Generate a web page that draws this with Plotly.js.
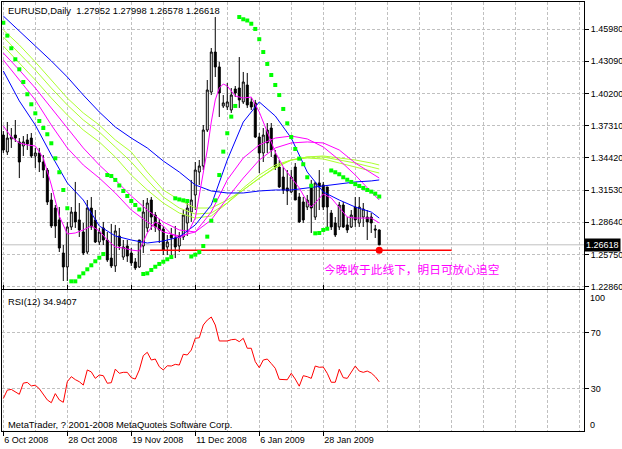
<!DOCTYPE html>
<html><head><meta charset="utf-8">
<script src="https://cdn.plot.ly/plotly-3.0.1.min.js"></script>
<style>html,body{margin:0;padding:0;background:#fff}#c{width:622px;height:449px}</style>
</head><body><div id="c"></div>
<script>
// ---- data ----
const dateLabels = ['6 Oct 2008','28 Oct 2008','19 Nov 2008','11 Dec 2008','6 Jan 2009','28 Jan 2009'];
const dateIdx = [0,16,32,48,64,80];

const open = [1.3647,1.3495,1.3612,1.3647,1.3585,1.3549,1.3603,1.3620,1.3459,1.3486,
1.3405,1.3333,1.3064,1.2992,1.2885,1.2588,1.2463,1.2822,1.2956,1.2885,
1.2777,1.2597,1.2992,1.2885,1.2687,1.2813,1.2705,1.2543,1.2472,1.2741,
1.2552,1.2651,1.2588,1.2508,1.2463,1.2651,1.2813,1.3064,1.2929,1.2858,
1.2804,1.2642,1.2750,1.2723,1.2651,1.2732,1.2858,1.2956,1.3109,1.3315,
1.3369,1.3692,1.4033,1.4392,1.4258,1.3908,1.3899,1.3872,1.4060,1.4069,
1.3944,1.4096,1.3944,1.3935,1.3629,1.3486,1.3692,1.3710,1.3468,1.3360,
1.3270,1.3172,1.3136,1.3360,1.3091,1.3046,1.3001,1.3199,1.2911,1.3217,
1.3199,1.3181,1.2947,1.2858,1.2822,1.3019,1.2840,1.2822,1.3001,1.2858,
1.2911,1.2911,1.2911,1.2804,1.27952];
const high = [1.3683,1.3764,1.3710,1.3782,1.3620,1.3638,1.3656,1.3665,1.3531,1.3531,
1.3468,1.3351,1.3127,1.3019,1.3001,1.2660,1.2867,1.3001,1.3226,1.3037,
1.2858,1.3064,1.3091,1.2974,1.2813,1.2867,1.2777,1.2849,1.2840,1.2813,
1.2705,1.2705,1.2633,1.2543,1.2678,1.3064,1.3082,1.3091,1.2956,1.2894,
1.2831,1.2750,1.2813,1.2831,1.2777,1.2974,1.3037,1.3244,1.3405,1.3423,
1.3737,1.4141,1.4428,1.4706,1.4303,1.4006,1.4114,1.4069,1.4087,1.4347,
1.4213,1.4204,1.3979,1.3962,1.3665,1.3710,1.3755,1.3755,1.3513,1.3423,
1.3360,1.3333,1.3333,1.3396,1.3127,1.3091,1.3109,1.3244,1.3226,1.3333,
1.3226,1.3181,1.2974,1.2911,1.3046,1.3046,1.2911,1.2974,1.3091,1.3091,
1.3037,1.2974,1.2947,1.2840,1.27998];
const low = [1.3486,1.3468,1.3531,1.3585,1.3261,1.3459,1.3513,1.3441,1.3351,1.3315,
1.3261,1.3019,1.2813,1.2723,1.2597,1.2337,1.2337,1.2795,1.2813,1.2732,
1.2570,1.2579,1.2795,1.2678,1.2660,1.2660,1.2508,1.2454,1.2418,1.2615,
1.2526,1.2508,1.2472,1.2436,1.2454,1.2588,1.2777,1.2795,1.2777,1.2678,
1.2570,1.2570,1.2570,1.2543,1.2597,1.2705,1.2741,1.2867,1.2974,1.3199,
1.3333,1.3674,1.4006,1.4168,1.3809,1.3890,1.3872,1.3845,1.3988,1.3890,
1.3926,1.3890,1.3872,1.3620,1.3306,1.3405,1.3486,1.3450,1.3333,1.3172,
1.3118,1.3019,1.3127,1.3064,1.2858,1.2858,1.2974,1.2768,1.2885,1.2974,
1.2974,1.2795,1.2795,1.2732,1.2795,1.2813,1.2768,1.2813,1.2822,1.2822,
1.2822,1.2705,1.2768,1.2723,1.26578];
const close = [1.3513,1.3620,1.3629,1.3620,1.3405,1.3585,1.3567,1.3459,1.3486,1.3405,
1.3333,1.3046,1.2831,1.2831,1.2633,1.2463,1.2822,1.2956,1.2867,1.2795,
1.2588,1.2992,1.2822,1.2687,1.2777,1.2705,1.2526,1.2472,1.2786,1.2651,
1.2642,1.2561,1.2499,1.2454,1.2705,1.2956,1.3037,1.2911,1.2822,1.2795,
1.2615,1.2687,1.2723,1.2642,1.2741,1.2929,1.2992,1.3064,1.3333,1.3369,
1.3692,1.4051,1.4392,1.4258,1.4024,1.3935,1.3944,1.4006,1.4024,1.3962,
1.4123,1.3917,1.3899,1.3629,1.3486,1.3647,1.3576,1.3513,1.3360,1.3181,
1.3154,1.3145,1.3270,1.3064,1.2867,1.2885,1.3064,1.2992,1.3217,1.3181,
1.3001,1.3001,1.2822,1.2750,1.3019,1.2822,1.2795,1.2929,1.2885,1.3001,
1.2983,1.2867,1.2858,1.2795,1.26618];

const sar = [1.4655,1.4539,1.4426,1.4327,1.4237,1.4123,1.4013,1.3923,1.3842,1.3773,1.3710,1.3654,1.3573,1.3438,1.3313,1.3154,1.2990,
1.2334,1.2334,1.2376,1.2406,1.2442,1.2478,1.2514,1.2546,1.2579,
1.3288,1.3279,1.3244,1.3194,1.3145,1.3100,1.3055,1.3019,1.2979,
1.2400,1.2406,1.2436,1.2465,1.2490,1.2510,1.2532,1.2552,
1.3079,1.3069,1.3061,1.3055,
1.2557,1.2573,1.2597,1.2651,1.2735,1.2878,1.3061,1.3288,1.3498,1.3663,1.3812,1.3908,
1.4706,1.4686,1.4675,1.4646,1.4599,1.4507,1.4392,1.4285,1.4186,1.4096,1.4006,1.3881,1.3752,1.3629,1.3522,1.3435,1.3385,1.3268,1.3192,
1.2765,1.2768,1.2795,1.2806,
1.3329,1.3313,1.3295,1.3268,1.3246,1.3226,1.3206,1.3190,1.3172,1.3154,1.3139,1.3121,1.3095];

const rsi = [23,29,29.5,28,26,34,34.5,32,32.5,30,25.5,22,20,26.5,22,20.3,35,38.6,36.5,35,
32.6,43.4,42,37.4,39.8,39.3,33.9,34.3,44,41,41.7,41.7,37.9,36.9,43.4,53.6,56,50.5,51.2,45.7,
43.4,46.4,46.2,47.4,46.9,54.6,54.1,57.6,66,66.4,75.5,79,81.2,75.5,64.1,64.1,64.1,65,65.3,63.6,
66,58.9,58.9,49.3,45,50.5,51.2,48,44.6,36.7,36.5,36.4,41,36.9,31.8,39.3,38.6,37.4,46.2,45.3,
45.5,41,34.6,34.6,43.9,37.9,37.4,41.7,46.2,42.6,41.7,42.6,41.2,38.6,34.94];
const rsiValueText = '34.9407';

// moving averages sampled every 4 bars
const maIdx = [0,4,8,12,16,20,24,28,32,36,40,44,48,52,56,60,64,68,72,76,80,84,88,92,94];
const blueSlow = [1.4715,1.4581,1.4455,1.4312,1.4168,1.4006,1.3854,1.3719,1.3620,1.3531,1.3414,1.3315,1.3199,1.3145,1.3127,1.3127,1.3145,1.3154,1.3154,1.3172,1.3190,1.3208,1.3226,1.3235,1.3244];
const blueFast = [1.4222,1.3953,1.3737,1.3468,1.3217,1.3064,1.2831,1.2741,1.2705,1.2678,1.2696,1.2732,1.2840,1.3019,1.3423,1.3764,1.3944,1.3818,1.3620,1.3315,1.3136,1.3064,1.3001,1.2956,1.2902];
const lime1 = [1.4590,1.4455,1.4303,1.4141,1.3979,1.3845,1.3737,1.3603,1.3495,1.3315,1.3154,1.3064,1.2992,1.2992,1.3064,1.3154,1.3261,1.3351,1.3423,1.3450,1.3459,1.3441,1.3423,1.3396,1.3378];
const lime2 = [1.4527,1.4383,1.4231,1.4069,1.3917,1.3782,1.3674,1.3540,1.3405,1.3244,1.3091,1.2992,1.2938,1.2947,1.3037,1.3154,1.3261,1.3360,1.3423,1.3450,1.3450,1.3423,1.3396,1.3360,1.3342];
const lime3 = [1.4446,1.4294,1.4141,1.3979,1.3827,1.3692,1.3585,1.3450,1.3288,1.3154,1.3037,1.2947,1.2902,1.2920,1.3037,1.3172,1.3288,1.3378,1.3423,1.3441,1.3432,1.3396,1.3360,1.3324,1.3306];
const magSlow = [1.4383,1.4231,1.4069,1.3890,1.3710,1.3531,1.3378,1.3244,1.3100,1.2974,1.2867,1.2795,1.2777,1.2885,1.3082,1.3261,1.3423,1.3531,1.3576,1.3585,1.3576,1.3513,1.3396,1.3306,1.3261];
const magMid = [1.4321,1.4141,1.3962,1.3737,1.3531,1.3378,1.3261,1.3127,1.2974,1.2867,1.2777,1.2741,1.2777,1.2956,1.3244,1.3441,1.3558,1.3620,1.3638,1.3612,1.3540,1.3423,1.3288,1.3136,1.3064];
const fastIdx = [0,2,4,6,8,10,12,14,16,18,20,22,24,26,28,30,32,34,36,38,40,42,44,46,48,49,50,51,52,53,54,55,56,58,60,62,64,66,68,70,72,74,76,77,78,80,82,84,86,88,90,92,94];
const magFast = [1.3728,1.3629,1.3576,1.3558,1.3549,1.3441,1.3199,1.2920,1.2759,1.2768,1.2795,1.2831,1.2786,1.2705,1.2642,1.2633,1.2615,1.2606,1.2768,1.2867,1.2831,1.2759,1.2723,1.2759,1.2902,1.3109,1.3315,1.3513,1.3764,1.3962,1.4069,1.4105,1.4087,1.3997,1.3979,1.3988,1.3854,1.3665,1.3495,1.3360,1.3270,1.3172,1.3046,1.3001,1.3037,1.3118,1.3082,1.2992,1.2911,1.2902,1.2902,1.2902,1.2858];

// horizontal level drawn by the author
const levelIdx = [36.7, 112.1];
const levelPrice = 1.2612;
const levelNote = '今晚收于此线下，明日可放心追空';

const priceTicks = [1.22860,1.25750,1.28640,1.31530,1.34420,1.37310,1.40200,1.43090,1.45980];
const rsiTicks = [30,70];
const titleText = 'EURUSD,Daily\u00a0\u00a01.27952 1.27998 1.26578 1.26618';
const copyText = 'MetaTrader, ? 2001-2008 MetaQuotes Software Corp.';

// ---- layout helpers ----
const W = 622, H = 449, ML = 2, MR = 38, MT = 2, MB = 18;
const PW = W - ML - MR, PH = H - MT - MB;
const px = x => (x - ML) / PW;
const py = y => (H - MB - y) / PH;

const bars = open.map((_, i) => i);
const lastI = bars.length - 1;
const FONT = 'Liberation Sans, Arial, sans-serif';
const GRID = '#c0c0c0';
const DASH = '3px,2px';

const lineTrace = (xs, ys, color) => ({type:'scatter', mode:'lines', x:xs, y:ys, xaxis:'x', yaxis:'y',
  line:{color:color, width:1}, hoverinfo:'skip', showlegend:false, cliponaxis:true});

const traces = [
  lineTrace(maIdx, lime1, '#adff2f'),
  lineTrace(maIdx, lime2, '#adff2f'),
  lineTrace(maIdx, lime3, '#adff2f'),
  lineTrace(maIdx, magSlow, '#ff00ff'),
  lineTrace(maIdx, magMid, '#ff00ff'),
  lineTrace(maIdx, blueSlow, '#0000ff'),
  lineTrace(maIdx, blueFast, '#0000ff'),
  {type:'scatter', mode:'lines', x:levelIdx, y:levelIdx.map(()=>levelPrice), xaxis:'x', yaxis:'y',
    line:{color:'#ff0000', width:1.5}, hoverinfo:'skip', showlegend:false},
  {type:'candlestick', x:bars, open:open, high:high, low:low, close:close, xaxis:'x', yaxis:'y',
    increasing:{line:{color:'#000000', width:1}, fillcolor:'#ffffff'},
    decreasing:{line:{color:'#000000', width:1}, fillcolor:'#000000'},
    whiskerwidth:0, hoverinfo:'skip', showlegend:false},
  lineTrace(fastIdx, magFast, '#ff00ff'),
  {type:'scatter', mode:'markers', x:bars, y:sar, xaxis:'x', yaxis:'y',
    marker:{symbol:'square', size:4, color:'#00ff00', line:{width:0}}, hoverinfo:'skip', showlegend:false},
  {type:'scatter', mode:'markers', x:[lastI], y:[levelPrice], xaxis:'x', yaxis:'y',
    marker:{symbol:'circle', size:7, color:'#ff0000', line:{width:0}}, hoverinfo:'skip', showlegend:false},
  {type:'scatter', mode:'lines', x:bars, y:rsi, xaxis:'x', yaxis:'y2',
    line:{color:'#ff0000', width:1}, hoverinfo:'skip', showlegend:false}
];

const layout = {
  width:W, height:H, margin:{l:ML, r:MR, t:MT, b:MB, pad:0},
  paper_bgcolor:'#ffffff', plot_bgcolor:'#ffffff', showlegend:false,
  font:{family:FONT, size:9, color:'#000'},
  xaxis:{domain:[0,1], anchor:'y2', range:[-0.33,145.2], tickmode:'array', tickvals:dateIdx, ticktext:dateLabels,
    ticks:'outside', ticklen:4, tickcolor:'#000', tickwidth:1, ticklabelposition:'outside right',
    tickfont:{family:FONT, size:9, color:'#000'},
    showline:true, linecolor:'#000', linewidth:1, mirror:'all',
    showgrid:true, gridcolor:GRID, gridwidth:1, griddash:DASH, zeroline:false,
    minor:{tickmode:'linear', tick0:0, dtick:8, showgrid:true, gridcolor:GRID, gridwidth:1, griddash:DASH, ticks:''},
    rangeslider:{visible:false}, fixedrange:true},
  yaxis:{domain:[py(289),1], anchor:'x', side:'right', range:[1.22652,1.48410],
    tickmode:'array', tickvals:priceTicks, tickformat:'.5f',
    ticks:'outside', ticklen:4, tickcolor:'#000', tickfont:{family:FONT, size:9, color:'#000'},
    showline:true, linecolor:'#000', linewidth:1, mirror:true,
    showgrid:true, gridcolor:GRID, griddash:DASH, zeroline:false, fixedrange:true},
  yaxis2:{domain:[0,py(290)], anchor:'x', side:'right', range:[-0.2,100.5],
    tickmode:'array', tickvals:rsiTicks,
    ticks:'outside', ticklen:4, tickcolor:'#000', tickfont:{family:FONT, size:9, color:'#000'},
    showline:true, linecolor:'#000', linewidth:1, mirror:true,
    showgrid:true, gridcolor:GRID, griddash:DASH, zeroline:false, fixedrange:true},
  shapes:[
    {type:'line', xref:'x domain', x0:0, x1:1, yref:'y', y0:close[lastI], y1:close[lastI],
      line:{color:'#c0c0c0', width:1}, layer:'below'}
  ],
  annotations:[
    {xref:'paper', yref:'paper', x:px(6), y:py(10), xanchor:'left', yanchor:'middle', showarrow:false,
      text:titleText, font:{family:FONT, size:9.4, color:'#000'}},
    {xref:'paper', yref:'paper', x:px(6), y:py(301), xanchor:'left', yanchor:'middle', showarrow:false,
      text:'RSI(12) ' + rsiValueText, font:{family:FONT, size:9.4, color:'#000'}},
    {xref:'paper', yref:'paper', x:px(6), y:py(424), xanchor:'left', yanchor:'middle', showarrow:false,
      text:copyText, font:{family:FONT, size:9.4, color:'#000'}},
    {xref:'paper', yref:'paper', x:px(322), y:py(268), xanchor:'left', yanchor:'middle', showarrow:false,
      text:levelNote, font:{family:'Noto Sans CJK SC', size:11.7, color:'#ff00ff'}},
    {xref:'paper', yref:'paper', x:px(588), y:py(297.5), xanchor:'left', yanchor:'middle', showarrow:false,
      text:'100', font:{family:FONT, size:9, color:'#000'}},
    {xref:'paper', yref:'paper', x:px(588), y:py(425), xanchor:'left', yanchor:'middle', showarrow:false,
      text:'0', font:{family:FONT, size:9, color:'#000'}},
    {xref:'paper', yref:'y', x:1, y:close[lastI], xanchor:'left', yanchor:'middle', showarrow:false,
      text:close[lastI].toFixed(5), bgcolor:'#000', borderpad:1, font:{family:FONT, size:9, color:'#fff'}}
  ]
};

Plotly.newPlot('c', traces, layout, {displayModeBar:false, staticPlot:true});
</script></body></html>
